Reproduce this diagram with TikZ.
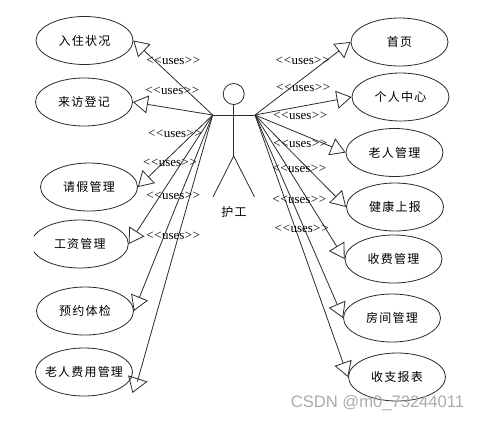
\documentclass[tikz,border=0pt]{standalone}
\usepackage{fontspec}
\setmainfont{Liberation Serif}
\newfontfamily\cjk[LetterSpace=10]{Noto Sans CJK SC}
\newfontfamily\wmfont{Liberation Sans}
\usetikzlibrary{arrows.meta, shapes.geometric}
\definecolor{inkgray}{HTML}{2B2B2B}
\definecolor{wmgray}{HTML}{ABABAB}
\newcommand{\usestext}{<\kern0.8pt<\kern0.3pt uses\kern0.3pt>\kern0.8pt>}
\tikzset{
  usecase/.style={ellipse, draw=inkgray, line width=0.8pt, minimum width=97, minimum height=48, inner sep=0pt, font=\cjk\fontsize{12}{14}\selectfont},
  uses/.style={draw=inkgray, line width=0.8pt, -{Triangle[open, length=15pt, width=18pt]}},
  limb/.style={draw=inkgray, line width=0.8pt},
  useslabel/.style={inner sep=0pt, font=\fontsize{13}{14}\selectfont}
}

\begin{document}
\begin{tikzpicture}[x=1pt, y=-1pt]
\useasboundingbox (0,0) rectangle (481,421);

% Actor
\node[circle, limb, minimum size=21, inner sep=0pt] (head) at (233.7,94) {};
\coordinate (lhand) at (212.7,115);
\coordinate (rhand) at (255,115);
\coordinate (hip) at (233.7,156);
\coordinate (lfoot) at (213,197);
\coordinate (rfoot) at (254.5,197);
\draw[limb] (head.south) -- (hip);
\draw[limb] (lhand) -- (rhand);
\draw[limb] (lfoot) -- (hip) -- (rfoot);
\node[font=\cjk\fontsize{12}{14}\selectfont, inner sep=0pt] (actorname) at (234,212) {护工};

% --- Left use cases ---
\node[usecase] (ruzhu) at (84.5,40.5) {入住状况};
\node[usecase] (laifang) at (84,102) {来访登记};
\node[usecase] (qingjia) at (89,187) {请假管理};
\begin{scope}
\clip (34,215) rectangle (140,275);
\node[usecase] (gongzi) at (79.8,244) {工资管理};
\end{scope}
\node[usecase] (tijian) at (85,311) {预约体检};
\node[usecase] (feiyong) at (84,372) {\makebox[0pt]{老人费用管理}};

% --- Right use cases ---
\node[usecase] (shouye) at (399.5,42) {首页};
\node[usecase] (geren) at (400.5,97) {个人中心};
\node[usecase] (laoren) at (394.5,152.5) {老人管理};
\node[usecase] (jiankang) at (395,207) {健康上报};
\node[usecase] (shoufei) at (393.5,259) {收费管理};
\node[usecase] (fangjian) at (392,318) {房间管理};
\node[usecase] (shouzhi) at (397,377) {收支报表};

% Left connectors
\foreach \target in {ruzhu, laifang, qingjia, gongzi, tijian}
  \draw[uses] (lhand) -- (\target.east);

% this head sits askew on its line
\coordinate (feiyongend) at (137.3,381.7);
\coordinate (feiyongtip) at (128.7,376);
\coordinate (feiyongwa) at (146.7,381.7);
\coordinate (feiyongwb) at (132.7,392.3);
\draw[limb] (lhand) -- (feiyongend);
\draw[limb] (feiyongtip) -- (feiyongwa) -- (feiyongwb) -- cycle;

% Right connectors
\foreach \target in {shouye, geren, laoren, jiankang, shoufei, fangjian, shouzhi}
  \draw[uses] (rhand) -- (\target.west);

% Labels
\node[useslabel] (ua) at (173.3,60.5) {\usestext};
\node[useslabel] (ub) at (172.3,91.2) {\usestext};
\node[useslabel] (uc) at (175,133.5) {\usestext};
\node[useslabel] (ud) at (170,162.5) {\usestext};
\node[useslabel] (ue) at (173.3,195.5) {\usestext};
\node[useslabel] (uf) at (173.3,236.2) {\usestext};
\node[useslabel] (ug) at (302.7,61.2) {\usestext};
\node[useslabel] (uh) at (303.3,88.2) {\usestext};
\node[useslabel] (ui) at (300.3,116.2) {\usestext};
\node[useslabel] (uj) at (300.3,143.5) {\usestext};
\node[useslabel] (uk) at (299.3,169.2) {\usestext};
\node[useslabel] (ul) at (299.3,199.5) {\usestext};
\node[useslabel] (um) at (301.7,228.5) {\usestext};

% Watermark
\node[text=wmgray, inner sep=0pt, font=\wmfont\fontsize{16.6}{18}\selectfont] (mark) at (377.5,402.7) {CSDN @m0\_73244011};

\end{tikzpicture}
\end{document}
